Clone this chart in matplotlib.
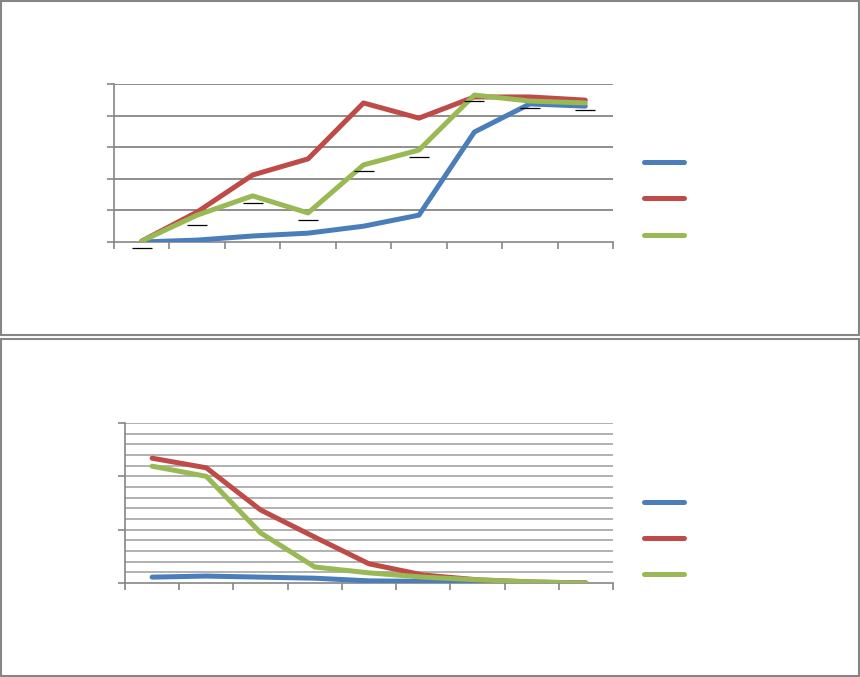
import numpy as np
import matplotlib
matplotlib.use("Agg")
import matplotlib.pyplot as plt
from matplotlib.lines import Line2D
from matplotlib.patches import Rectangle

# top chart (9 categories)
top_blue = [0.0, 0.06, 0.19, 0.28, 0.5, 0.85, 3.48, 4.37, 4.3]
top_red = [0.03, 0.95, 2.12, 2.63, 4.4, 3.92, 4.59, 4.59, 4.49]
top_green = [0.03, 0.85, 1.46, 0.92, 2.44, 2.91, 4.65, 4.46, 4.4]
top_marks = [-0.19, 0.54, 1.23, 0.7, 2.25, 2.69, 4.46, 4.24, 4.18]

# bottom chart
bot_blue = [0.11, 0.13, 0.11, 0.09, 0.04, 0.03, 0.02, 0.01, 0.0]
bot_red = [2.34, 2.16, 1.37, 0.86, 0.36, 0.15, 0.06, 0.02, 0.0]
bot_green = [2.19, 2.0, 0.94, 0.3, 0.19, 0.11, 0.06, 0.02, 0.0]

BLUE = "#4A7EBB"
RED = "#BE4B48"
GREEN = "#98B954"
colors = [BLUE, RED, GREEN]
LW = 3.6

W, H = 860, 677
fig = plt.figure(figsize=(W/100, H/100), dpi=100)

def px_axes(x0, y0, x1, y1):
    return fig.add_axes([x0/W, 1-y1/H, (x1-x0)/W, (y1-y0)/H])

def style(ax):
    for s in ["top", "right"]:
        ax.spines[s].set_visible(False)
    for s in ["left", "bottom"]:
        ax.spines[s].set_color("#868686")
        ax.spines[s].set_linewidth(1.2)
    ax.tick_params(axis="both", direction="out", length=5, width=1.2,
                   color="#868686", labelleft=False, labelbottom=False)
    ax.set_xticks(np.arange(-0.5, 9, 1))
    ax.set_xlim(-0.5, 8.5)

# panel borders
fig.add_artist(Rectangle((0.5/W, 1-335/H), 858.5/W, 334/H, transform=fig.transFigure,
                         fill=False, ec="#868686", lw=1.5))
fig.add_artist(Rectangle((0.5/W, 1-676/H), 858.5/W, 337/H, transform=fig.transFigure,
                         fill=False, ec="#868686", lw=1.5))

x = np.arange(9)

# top
ax1 = px_axes(114, 84, 613, 242)
style(ax1)
ax1.set_ylim(0, 5)
ax1.set_yticks(np.arange(0, 6, 1))
for v in range(1, 6):
    ax1.axhline(v, color="#868686", lw=1.3, zorder=1)
for ys, c in zip([top_blue, top_red, top_green], colors):
    ax1.plot(x, ys, color=c, lw=LW, solid_capstyle="round", zorder=3)
ax1.plot(x, top_marks, ls="none", marker="_", ms=14.4, mew=0.9, color="black",
         clip_on=False, zorder=4)

# bottom
ax2 = px_axes(125, 423, 613, 583)
style(ax2)
ax2.set_ylim(0, 3)
ax2.set_yticks(np.arange(0, 4, 1))
for v in np.arange(0.2, 3.01, 0.2):
    ax2.axhline(v, color="#ABABAB", lw=1.3, zorder=1)
for ys, c in zip([bot_blue, bot_red, bot_green], colors):
    ax2.plot(x, ys, color=c, lw=LW, solid_capstyle="round", zorder=3)

# legend keys (no text)
for ys_px in [(162, 198, 235), (502, 538, 574)]:
    for yp, c in zip(ys_px, colors):
        fig.add_artist(Line2D([644/W, 684/W], [1-yp/H, 1-yp/H], transform=fig.transFigure,
                              color=c, lw=LW, solid_capstyle="round"))

fig.savefig("out.png", dpi=100)
